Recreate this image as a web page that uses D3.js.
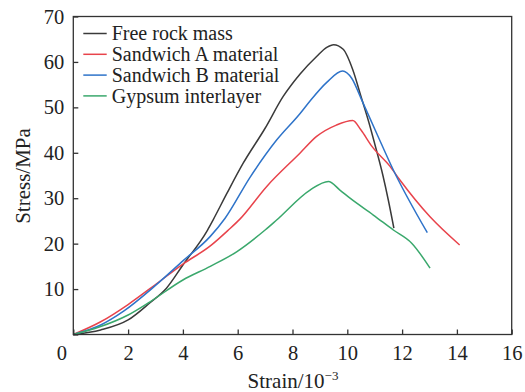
<!DOCTYPE html>
<html><head><meta charset="utf-8">
<script src="https://cdn.jsdelivr.net/npm/d3@7"></script>
<style>body{margin:0;background:#fff}svg{display:block}</style>
</head><body><svg id="c" width="525" height="392"></svg>
<script>
const seriesNames = ["Free rock mass","Sandwich A material","Sandwich B material","Gypsum interlayer"];
const seriesColors = ["#3a3a3a","#e8434b","#2e73c9","#3aa86c"];
const freeRock = [[0,0],[1,1.0],[2,3.2],[2.8,7.0],[3.4,10.2],[4,15.3],[4.9,23],[5.1,25.2],[5.6,31],[6.2,37.7],[7,45.4],[7.66,52.4],[8.27,57.3],[8.88,61.2],[9.25,63.2],[9.5,63.8],[9.85,62.8],[10.2,58.3],[10.5,52.4],[10.83,45.8],[11.0,42],[11.3,35],[11.5,29.5],[11.7,23.4]];
const sandwichA = [[0,0],[1,2.8],[2,6.6],[3,11],[4,15.5],[5,19.5],[5.66,23],[6.08,25.4],[7.06,32.6],[8.27,39.9],[8.88,43.6],[9.6,46.1],[10.2,47.1],[10.5,45.0],[10.9,41.4],[11.56,37],[11.92,34],[13.02,25.9],[14.1,19.7]];
const sandwichB = [[0,0],[1,2.1],[1.85,5.2],[3,10.8],[4,16.2],[5,21.6],[5.54,25.6],[6.45,34.6],[7.42,42.8],[8.27,48.6],[8.64,51.4],[9.25,55.5],[9.83,58],[10.16,56.4],[10.52,51.7],[11.07,44.3],[11.68,36.2],[12.92,22.4]];
const gypsum = [[0,0],[0.97,1.7],[2,4.3],[2.8,7.2],[4,12],[5,15],[5.96,18.2],[7,23],[7.42,25.2],[8.64,31.8],[9.31,33.7],[9.73,31.8],[10.1,30],[10.95,26.3],[11.68,23],[12.35,20.1],[13.02,14.6]];
const xTicks = [0,2,4,6,8,10,12,14,16];
const yTicks = [0,10,20,30,40,50,60,70];
const xLabel = "Strain/10";
const xLabelSup = "\u22123";
const yLabel = "Stress/MPa";

const FF = "'Liberation Serif', 'Times New Roman', serif";
const all = [freeRock, sandwichA, sandwichB, gypsum];
const svg = d3.select("#c");
const L = 73.3, R = 511.7, T = 16.5, B = 334.5;
const x = d3.scaleLinear().domain([0,16]).range([L,R]);
const y = d3.scaleLinear().domain([0,70]).range([B,T]);
const fsTick = 20.5, fsText = 21, fsLegend = 20;

all.forEach((s,i)=>{
  svg.append("path").attr("d", d3.line().x(d=>x(d[0])).y(d=>y(d[1])).curve(d3.curveMonotoneX)(s))
    .attr("fill","none").attr("stroke",seriesColors[i]).attr("stroke-width",1.5);
});

svg.append("rect").attr("x",L).attr("y",T).attr("width",R-L).attr("height",B-T)
  .attr("fill","none").attr("stroke","#333").attr("stroke-width",1.3);

const xa = svg.append("g").attr("transform",`translate(0,${B})`)
  .call(d3.axisBottom(x).tickValues(xTicks).tickSizeInner(-5).tickSizeOuter(0).tickPadding(11).tickFormat(d3.format("d")));
xa.attr("font-family",FF);
xa.select(".domain").remove();
xa.selectAll("line").attr("stroke","#333").attr("stroke-width",1.3);
xa.selectAll("text").attr("font-size",fsTick).attr("fill","#222").attr("font-family",FF);
xa.selectAll(".tick").filter(d=>d===0).select("text").attr("dx",-12);

const ya = svg.append("g").attr("transform",`translate(${L},0)`)
  .call(d3.axisLeft(y).tickValues(yTicks).tickSizeInner(-5).tickSizeOuter(0).tickPadding(9).tickFormat(d=>d===0?"":d));
ya.attr("font-family",FF);
ya.select(".domain").remove();
ya.selectAll("line").attr("stroke","#333").attr("stroke-width",1.3);
ya.selectAll("text").attr("font-size",fsTick).attr("fill","#222").attr("font-family",FF);

svg.append("text").attr("transform",`translate(30,176) rotate(-90)`).attr("text-anchor","middle")
  .attr("font-size",fsText).attr("font-family",FF).attr("fill","#222").text(yLabel);
const xt = svg.append("text").attr("x",293).attr("y",388).attr("text-anchor","middle")
  .attr("font-size",fsText).attr("font-family",FF).attr("fill","#222");
xt.append("tspan").text(xLabel);
xt.append("tspan").attr("font-size",13).attr("dy",-8).text(xLabelSup);

seriesNames.forEach((n,i)=>{
  const yy = 33.5 + i*20.8;
  svg.append("line").attr("x1",83.3).attr("x2",106.7).attr("y1",yy).attr("y2",yy)
    .attr("stroke",seriesColors[i]).attr("stroke-width",1.5);
  svg.append("text").attr("x",111.7).attr("y",yy).attr("dy","0.33em").attr("font-size",fsLegend)
    .attr("font-family",FF).attr("fill","#222").text(n);
});
</script></body></html>
